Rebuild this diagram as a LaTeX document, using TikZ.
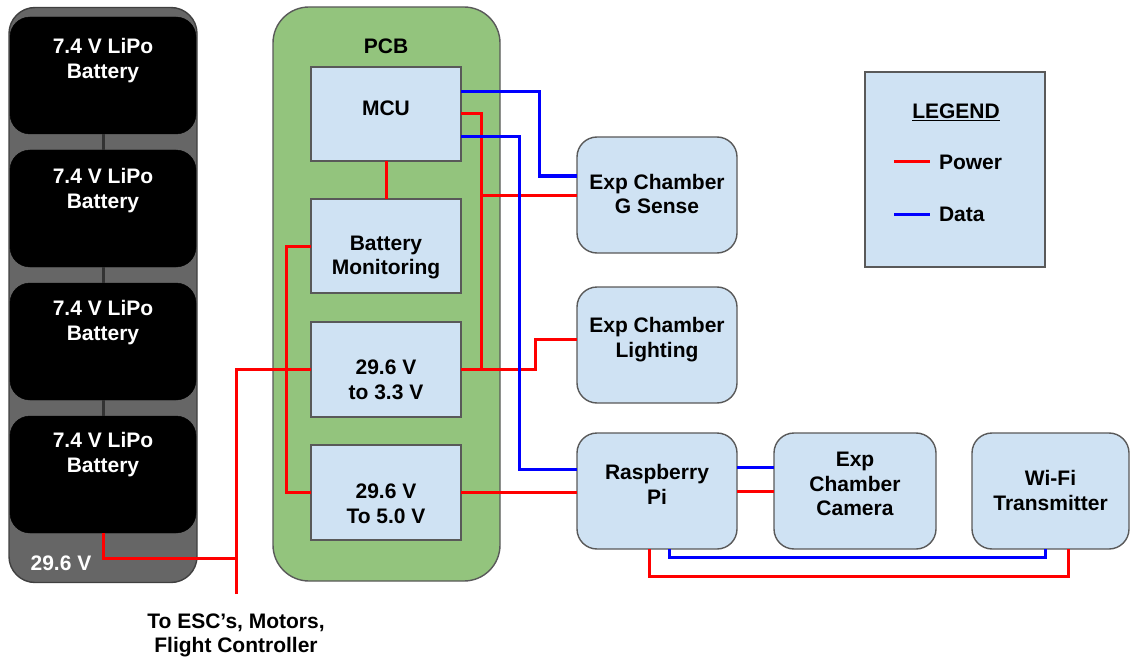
\documentclass[tikz,border=0pt]{standalone}
\usepackage{fontspec}
\setmainfont{Liberation Sans}
\definecolor{boxfill}{HTML}{CFE2F3}
\definecolor{boxline}{HTML}{595959}
\definecolor{pcbfill}{HTML}{93C47D}
\definecolor{packfill}{HTML}{666666}
\definecolor{packline}{HTML}{404040}
\definecolor{pwrred}{HTML}{FF0000}
\definecolor{datblue}{HTML}{0000FF}
\definecolor{linkgray}{HTML}{333333}
\begin{document}
\begin{tikzpicture}[x=1pt,y=-1pt,
  every node/.style={font=\fontsize{21}{24.5}\selectfont\bfseries, inner sep=0pt, outer sep=0pt},
  box/.style={draw=boxline, line width=1.4pt, fill=boxfill, minimum width=150pt, minimum height=94pt},
  rbox/.style={draw=boxline, line width=1.4pt, fill=boxfill, rounded corners=20pt, minimum width=160pt, minimum height=116pt},
  batt/.style={fill=black, draw=black, rounded corners=20pt, minimum width=186pt, minimum height=117pt},
  pwr/.style={draw=pwrred, line width=3pt},
  dat/.style={draw=datblue, line width=3pt},
  txt/.style={align=center, text=black},
  wtxt/.style={align=center, text=white},
]
\useasboundingbox (0,0) rectangle (1130,658);

% containers
\node[draw=packline, line width=1.4pt, fill=packfill, rounded corners=26pt, minimum width=188pt, minimum height=575pt] (pack) at (103,295) {};
\node[draw=boxline, line width=1.4pt, fill=pcbfill, rounded corners=36pt, minimum width=227pt, minimum height=574pt] (pcb) at (386.5,294) {};

% batteries
\node[batt] (b1) at (103,75.5) {};
\node[batt] (b2) at (103,208.5) {};
\node[batt] (b3) at (103,341.5) {};
\node[batt] (b4) at (103,474.5) {};
\draw[linkgray, line width=3pt] (b1.south) -- (b2.north);
\draw[linkgray, line width=3pt] (b2.south) -- (b3.north);
\draw[linkgray, line width=3pt] (b3.south) -- (b4.north);

% PCB boxes
\node[box] (mcu) at (386,114) {};
\node[box] (bm) at (386,246) {};
\node[box, minimum height=95pt] (v33) at (386,369.5) {};
\node[box, minimum height=95pt] (v50) at (386,492.5) {};

% peripheral boxes
\node[rbox] (gs) at (657,195) {};
\node[rbox] (lt) at (657,345) {};
\node[rbox] (rpi) at (657,491) {};
\node[rbox, minimum width=162pt] (cam) at (855,491) {};
\node[rbox, minimum width=157pt] (wifi) at (1050.5,491) {};

% legend
\node[box, minimum width=180pt, minimum height=195pt] (leg) at (955,169.5) {};

% power connectors
\coordinate (esc) at (236,594);
\coordinate (j1) at (236,558);
\draw[pwr] (b4.south) |- (j1);
\draw[pwr] (esc) |- (v33.west);
\draw[pwr] (bm.west) -- ++(-25,0) |- (v50.west);
\draw[pwr] (mcu.south) -- (bm.north);
\draw[pwr] (mcu.east) -- ++(20,0) |- (v33.east);
\draw[pwr] (gs.west) -- ++(-96,0);
\draw[pwr] (v33.east) -- ++(74,0) |- ([yshift=6pt]lt.west);
\draw[pwr] (v50.east) -- (v50.east -| rpi.west);
\draw[pwr] (rpi.east) -- (cam.west);
\draw[pwr] ([xshift=-8pt]rpi.south) -- ++(0,27) -| ([xshift=17.5pt]wifi.south);

% data connectors
\draw[dat] ([yshift=22pt]mcu.east) -- ++(78,0) |- ([yshift=19pt]gs.west);
\draw[dat] ([yshift=-23pt]mcu.east) -- ++(58,0) |- ([yshift=22pt]rpi.west);
\draw[dat] ([yshift=24pt]rpi.east) -- ([yshift=24pt]cam.west);
\draw[dat] ([xshift=12pt]rpi.south) -- ++(0,8) -| ([xshift=-5.5pt]wifi.south);

% legend entries
\coordinate (lp1) at (894,162);
\coordinate (lp2) at (930,162);
\coordinate (ld1) at (894,214);
\coordinate (ld2) at (930,214);
\draw[pwr] (lp1) -- (lp2);
\draw[dat] (ld1) -- (ld2);
\node[txt] (legT) at (956,112) {\underline{LEGEND}};
\node[txt, anchor=west] (powT) at (939,162) {Power};
\node[txt, anchor=west] (datT) at (939,214) {Data};

% texts
\node[wtxt] (b1T) at (103,60.5) {7.4 V LiPo\\Battery};
\node[wtxt] (b2T) at (103,190.5) {7.4 V LiPo\\Battery};
\node[wtxt] (b3T) at (103,322.5) {7.4 V LiPo\\Battery};
\node[wtxt] (b4T) at (103,454.5) {7.4 V LiPo\\Battery};
\node[wtxt] (packT) at (61,563) {29.6 V};
\node[txt] (pcbT) at (386,46) {PCB};
\node[txt] (mcuT) at (386,108) {MCU};
\node[txt] (bmT) at (386,257.5) {Battery\\Monitoring};
\node[txt] (v33T) at (386,380) {29.6 V\\to 3.3 V};
\node[txt] (v50T) at (386,504) {29.6 V\\To 5.0 V};
\node[txt] (gsT) at (657,194) {Exp Chamber\\G Sense};
\node[txt] (ltT) at (657,339.5) {Exp Chamber\\Lighting};
\node[txt] (rpiT) at (657,484.5) {Raspberry\\Pi};
\node[txt] (camT) at (855,484) {Exp\\Chamber\\Camera};
\node[txt] (wifiT) at (1050.5,490.5) {Wi-Fi\\Transmitter};
\node[txt] (escT) at (236,635.5) {To ESC’s, Motors,\\Flight Controller};
\end{tikzpicture}
\end{document}
